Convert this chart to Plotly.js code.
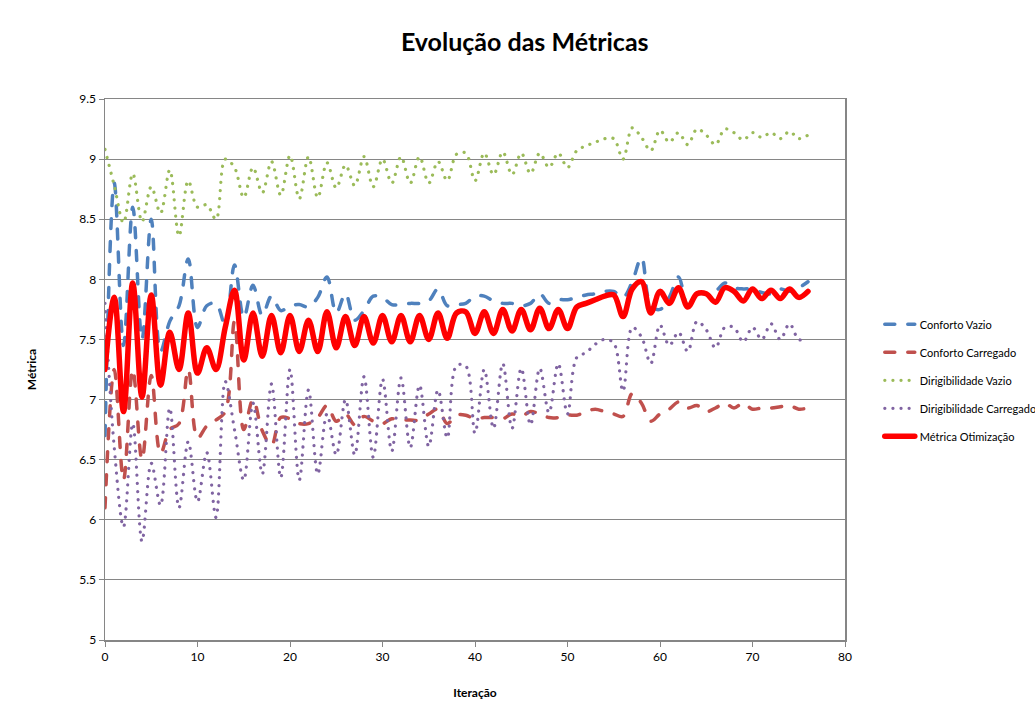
<!DOCTYPE html>
<html><head><meta charset="utf-8">
<script src="https://cdn.plot.ly/plotly-3.0.1.min.js"></script>
<style>
html,body{margin:0;padding:0;background:#fff;}
#chart{width:1035px;height:722px;}
.js-line{stroke-linecap:round;stroke-linejoin:round;}
</style></head><body><div id="chart"></div>
<script>
const iteracoes = [0,1,2,3,4,5,6,7,8,9,10,11,12,13,14,15,16,17,18,19,20,21,22,23,24,25,26,27,28,29,30,31,32,33,34,35,36,37,38,39,40,41,42,43,44,45,46,47,48,49,50,51,52,53,54,55,56,57,58,59,60,61,62,63,64,65,66,67,68,69,70,71,72,73,74,75,76];

const confortoVazio = [6.70,8.80,7.45,8.60,7.50,8.50,7.40,7.65,7.78,8.17,7.60,7.78,7.80,7.62,8.12,7.68,7.95,7.70,7.86,7.74,7.78,7.79,7.77,7.85,8.02,7.72,7.88,7.66,7.74,7.86,7.85,7.79,7.79,7.80,7.80,7.82,7.92,7.78,7.79,7.80,7.86,7.86,7.82,7.80,7.80,7.78,7.80,7.88,7.80,7.83,7.83,7.85,7.87,7.88,7.90,7.90,7.85,7.98,8.18,7.78,7.75,7.85,8.02,7.78,7.88,7.88,7.90,7.97,7.93,7.92,7.92,7.89,7.88,7.92,7.90,7.93,7.98];

const confortoCarregado = [6.10,7.25,6.33,7.25,6.50,7.20,6.55,6.75,6.80,7.25,6.68,6.78,6.83,6.90,7.65,6.75,7.00,6.74,6.62,6.85,6.84,6.80,6.80,6.85,6.95,6.82,6.88,6.79,6.86,6.82,6.80,6.84,6.83,6.83,6.83,6.88,6.92,6.80,6.87,6.87,6.84,6.85,6.85,6.84,6.88,6.86,6.90,6.88,6.85,6.85,6.87,6.87,6.90,6.92,6.90,6.88,6.86,7.05,6.97,6.82,6.88,6.92,6.98,6.93,6.95,6.90,6.93,6.97,6.93,6.97,6.92,6.93,6.93,6.94,6.95,6.92,6.93];

const dirigibilidadeVazio = [9.08,8.78,8.47,8.88,8.48,8.77,8.55,8.91,8.36,8.82,8.60,8.62,8.50,9.00,8.93,8.68,8.93,8.72,8.98,8.70,9.03,8.67,9.02,8.68,8.97,8.76,8.95,8.78,9.02,8.77,9.00,8.80,9.02,8.80,9.02,8.80,8.98,8.82,9.04,9.05,8.82,9.05,8.87,9.06,8.87,9.05,8.88,9.05,8.93,9.05,8.93,9.07,9.11,9.14,9.17,9.17,9.00,9.26,9.18,9.07,9.24,9.14,9.22,9.12,9.25,9.20,9.12,9.25,9.22,9.16,9.22,9.18,9.22,9.17,9.23,9.17,9.20];

const dirigibilidadeCarregado = [7.80,6.60,5.94,6.80,5.82,6.47,6.12,6.93,6.10,6.65,6.15,6.56,6.02,7.15,6.75,6.33,6.97,6.38,7.13,6.35,7.25,6.33,7.08,6.38,6.88,6.54,7.00,6.54,7.19,6.52,7.17,6.57,7.18,6.60,7.12,6.61,7.08,6.68,7.28,7.28,6.72,7.25,6.76,7.30,6.76,7.26,6.79,7.26,6.89,7.30,6.88,7.35,7.39,7.46,7.50,7.47,7.07,7.60,7.52,7.30,7.62,7.45,7.56,7.40,7.65,7.58,7.43,7.60,7.60,7.48,7.60,7.50,7.63,7.50,7.63,7.50,7.50];

const metricaOtimizacao = [7.25,7.85,6.90,7.97,7.02,7.87,7.12,7.56,7.25,7.72,7.22,7.43,7.25,7.60,7.91,7.33,7.72,7.36,7.70,7.39,7.70,7.40,7.66,7.40,7.73,7.43,7.69,7.45,7.69,7.47,7.70,7.48,7.70,7.48,7.70,7.50,7.72,7.51,7.72,7.73,7.55,7.73,7.55,7.75,7.57,7.75,7.58,7.76,7.59,7.75,7.59,7.77,7.80,7.83,7.86,7.87,7.69,7.92,7.98,7.72,7.90,7.80,7.93,7.77,7.88,7.88,7.81,7.93,7.90,7.82,7.92,7.84,7.91,7.84,7.92,7.85,7.90];

const seriesNames = ['Conforto Vazio','Conforto Carregado','Dirigibilidade Vazio','Dirigibilidade Carregado','Métrica Otimização'];
const xTicks = [0,10,20,30,40,50,60,70,80];
const yTicks = [5,5.5,6,6.5,7,7.5,8,8.5,9,9.5];

const seriesData = [confortoVazio, confortoCarregado, dirigibilidadeVazio, dirigibilidadeCarregado, metricaOtimizacao];
const styles = [
  {color:'#4F81BD', width:3.5, dash:'10px,13px'},
  {color:'#C0504D', width:3.5, dash:'10px,13px'},
  {color:'#9BBB59', width:3.2, dash:'0.1px,8px'},
  {color:'#8064A2', width:3.2, dash:'0.1px,8px'},
  {color:'#FF0000', width:5.5, dash:'solid'}
];

const traces = seriesData.map((ys, k) => ({
  type:'scatter', mode:'lines', name: seriesNames[k],
  x: iteracoes, y: ys, legendgroup: 'g'+k,
  line: Object.assign({shape:'spline', smoothing:1}, styles[k]),
  hoverinfo:'skip'
}));

const font = 'Lato, "Liberation Sans", sans-serif';
const layout = {
  width:1035, height:722,
  margin:{l:105, r:190, t:99, b:82, autoexpand:false},
  paper_bgcolor:'#fff', plot_bgcolor:'#fff',
  font:{family:font, color:'#000', size:12},
  title:{text:'<b>Evolução das Métricas</b>', font:{family:font, size:25, color:'#000'},
         xref:'container', x:0.507, xanchor:'center', yref:'container', y:0.942, yanchor:'middle'},
  xaxis:{range:[0,80], tickvals:xTicks, ticktext:xTicks.map(String), showgrid:false, zeroline:false,
         showline:true, linecolor:'#868686', linewidth:1.5, mirror:true,
         ticks:'outside', ticklen:5, tickcolor:'#868686', tickfont:{size:12, family:font},
         title:{text:'<b>Iteração</b>', font:{size:12, family:font}, standoff:25}},
  yaxis:{range:[5,9.5], tickvals:yTicks, ticktext:yTicks.map(String), showgrid:true, gridcolor:'#868686', gridwidth:1,
         zeroline:false, showline:true, linecolor:'#868686', linewidth:1.5, mirror:true,
         ticks:'outside', ticklen:5, tickcolor:'#868686', tickfont:{size:12, family:font},
         title:{text:'<b>Métrica</b>', font:{size:12, family:font}, standoff:40}},
  legend:{x:1.047, xanchor:'left', y:0.48, yanchor:'middle', font:{size:11, family:font, color:'#000'},
          bgcolor:'rgba(0,0,0,0)', traceorder:'grouped', tracegroupgap:9},
  showlegend:true
};

Plotly.newPlot('chart', traces, layout, {displayModeBar:false, staticPlot:true});
</script></body></html>
